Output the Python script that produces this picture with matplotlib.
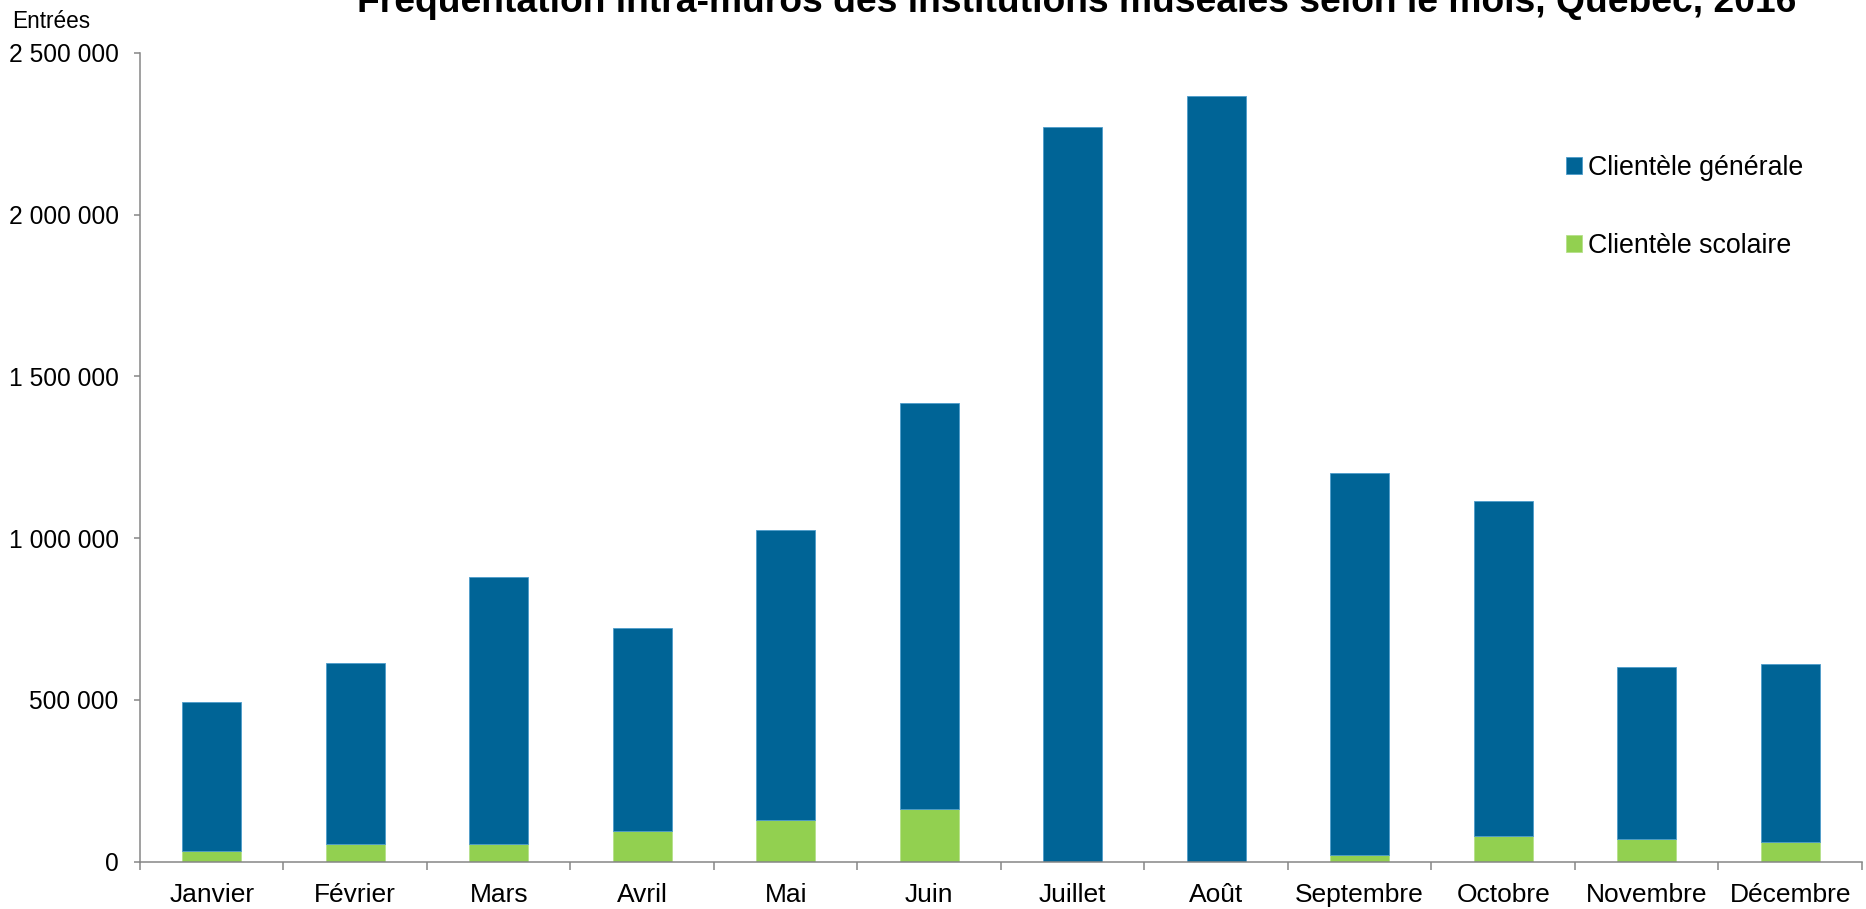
import matplotlib.pyplot as plt
from matplotlib.ticker import FuncFormatter

plt.rcParams["font.family"] = ["Liberation Sans", "DejaVu Sans"]

# Fréquentation par mois (entrées)
mois = ["Janvier", "Février", "Mars", "Avril", "Mai", "Juin", "Juillet",
        "Août", "Septembre", "Octobre", "Novembre", "Décembre"]
clientele_scolaire = [32000, 54700, 53700, 94900, 129900, 163900, 0,
                      0, 19800, 79500, 69300, 60900]
clientele_generale = [461800, 558800, 825700, 626800, 896700, 1253500, 2270800,
                      2365500, 1181200, 1034900, 531800, 550400]
yticks = [0, 500000, 1000000, 1500000, 2000000, 2500000]

BLEU = "#006496"
VERT = "#92D050"
GRIS = "#868686"

fig = plt.figure(figsize=(18.66, 9.09), dpi=100)
ax = fig.add_axes([0.075, 0.052, 0.9228, 0.890])

x = list(range(len(mois)))
ax.bar(x, clientele_scolaire, width=0.41, color=VERT, label="Clientèle scolaire",
       edgecolor="#b5e08a", linewidth=0.6, zorder=2)
ax.bar(x, clientele_generale, width=0.41, bottom=clientele_scolaire, color=BLEU,
       label="Clientèle générale", edgecolor="#4d9ccb", linewidth=0.6, zorder=2)

ax.set_xlim(-0.5, len(mois) - 0.5)
ax.set_ylim(0, 2500000)
ax.set_yticks(yticks)
ax.yaxis.set_major_formatter(FuncFormatter(lambda v, p: f"{int(v):,}".replace(",", " ")))

# ticks aux séparations, étiquettes au centre
ax.set_xticks([i - 0.5 for i in range(len(mois) + 1)])
ax.set_xticklabels([])
ax.set_xticks(x, minor=True)
ax.set_xticklabels(mois, minor=True)
ax.tick_params(axis="x", which="major", direction="out", length=5.8, width=1.1, color=GRIS)
ax.tick_params(axis="x", which="minor", length=0, pad=15, labelsize=19)
ax.tick_params(axis="y", direction="out", length=4.3, width=1.1, color=GRIS,
               pad=11, labelsize=17.7)

for side in ["top", "right"]:
    ax.spines[side].set_visible(False)
for side in ["left", "bottom"]:
    ax.spines[side].set_color(GRIS)
    ax.spines[side].set_linewidth(1.1)
    ax.spines[side].set_zorder(3)

handles, labels = ax.get_legend_handles_labels()
fig.legend(handles[::-1], labels[::-1], loc="upper left",
           bbox_to_anchor=(1566 / 1866, 1 - 155 / 909), frameon=False,
           fontsize=19.3, handlelength=0.6, handleheight=0.6,
           handletextpad=0.22, labelspacing=1.95, borderpad=0, borderaxespad=0)

fig.text(1077 / 1866, 1 - 12 / 909,
         "Fréquentation intra-muros des institutions muséales selon le mois, Québec, 2016",
         ha="center", va="baseline", fontsize=26.8, fontweight="bold")
fig.text(12 / 1866, 1 - 28 / 909, "Entrées", ha="left", va="baseline", fontsize=16.3)

fig.savefig("out.png", dpi=100)
